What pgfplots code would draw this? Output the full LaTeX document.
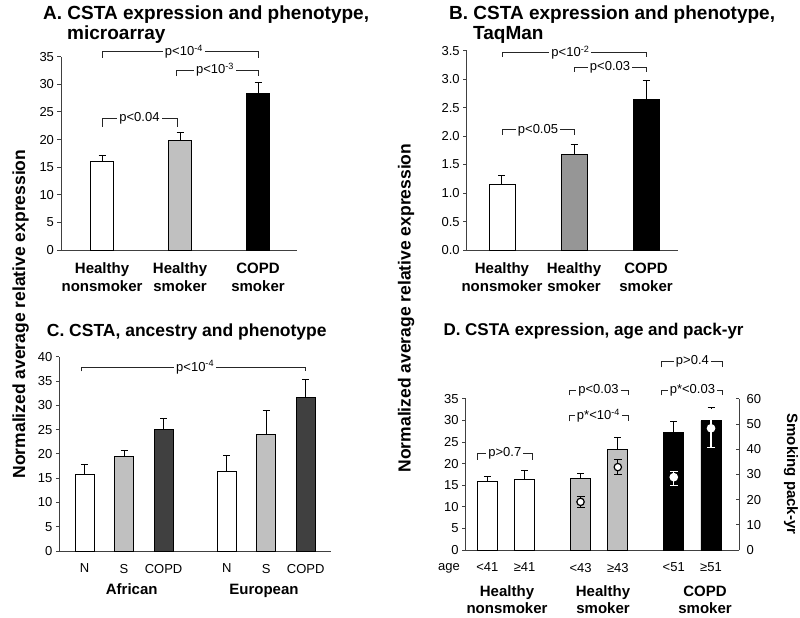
\documentclass[border=0pt]{standalone}
\usepackage{fontspec}
\setmainfont{Liberation Sans}
\usepackage{pgfplots}
\pgfplotsset{compat=1.18}
\definecolor{lgray}{HTML}{C0C0C0}
\definecolor{mgray}{HTML}{969696}
\definecolor{dgray}{HTML}{404040}
\newcommand{\tfont}{\bfseries\fontsize{17.5}{20}\selectfont}
\newcommand{\tfontA}{\bfseries\fontsize{19}{21}\selectfont}
\newcommand{\tfontD}{\bfseries\fontsize{17}{20}\selectfont}
\newcommand{\lfont}{\bfseries\fontsize{15}{17.5}\selectfont}
\newcommand{\nfont}{\fontsize{13}{15}\selectfont}
\newcommand{\pfont}{\fontsize{13}{15}\selectfont}
\pgfplotsset{
  panel/.style={
    scale only axis, anchor=south west, clip=false,
    axis x line=bottom, axis y line=left,
    axis line style={-, black!75, line width=0.9pt},
    ymin=0,
    ytick style={black!75, line width=0.9pt}, tick align=outside, major tick length=3.5pt,
    xtick style={draw=none},
    yticklabel style={font=\nfont, /pgf/number format/assume math mode=true},
  },
  mybar/.style={ybar, bar shift=0pt, draw=black, line width=0.9pt,
    error bars/y dir=plus, error bars/y explicit,
    error bars/error bar style={line width=1pt, black, solid},
    error bars/error mark options={rotate=90, mark size=3.5pt, line width=1pt, black}},
}
% x1, x2, mid, y, ytick, label
\newcommand{\brk}[6]{%
  \draw[black!85, line width=0.9pt] (axis cs:#1,#5) -- (axis cs:#1,#4) -- (axis cs:#2,#4) -- (axis cs:#2,#5);
  \node[fill=white, inner sep=2pt, font=\pfont] at (axis cs:#3,#4) {#6};
}
\begin{document}
\begin{tikzpicture}
\path[use as bounding box] (0,0) rectangle (800pt,-618pt);

% ---------- Panel A ----------
\begin{axis}[panel, at={(61pt,-250pt)}, width=236pt, height=193.3pt,
  xmin=-0.526, xmax=2.5, ymax=35, ytick={0,5,...,35},
  xtick={0,1,2}, xticklabels={Healthy\\nonsmoker, Healthy\\smoker, COPD\\smoker},
  xticklabel style={font=\lfont, align=center, yshift=-6pt}]
\addplot[mybar, bar width=0.29, fill=white] coordinates {(0,16.1) +- (0,1.1)};
\addplot[mybar, bar width=0.29, fill=lgray] coordinates {(1,19.9) +- (0,1.4)};
\addplot[mybar, bar width=0.29, fill=black] coordinates {(2,28.4) +- (0,2.0)};
\brk{0}{2}{1.05}{35.9}{34.8}{p<10\textsuperscript{-4}}
\brk{0.95}{2}{1.45}{32.6}{31.5}{p<10\textsuperscript{-3}}
\brk{0}{0.97}{0.48}{23.9}{22.3}{p<0.04}
\end{axis}

% ---------- Panel B ----------
\begin{axis}[panel, at={(466.7pt,-250pt)}, width=211pt, height=199.3pt,
  xmin=-0.49, xmax=2.44, ymax=3.5, ytick={0,0.5,...,3.5},
  yticklabel style={/pgf/number format/.cd, fixed, fixed zerofill, precision=1},
  xtick={0,1,2}, xticklabels={Healthy\\nonsmoker, Healthy\\smoker, COPD\\smoker},
  xticklabel style={font=\lfont, align=center, yshift=-6pt}]
\addplot[mybar, bar width=0.36, fill=white] coordinates {(0,1.155) +- (0,0.155)};
\addplot[mybar, bar width=0.36, fill=mgray] coordinates {(1,1.68) +- (0,0.18)};
\addplot[mybar, bar width=0.36, fill=black] coordinates {(2,2.65) +- (0,0.33)};
\brk{0}{2}{0.95}{3.47}{3.39}{p<10\textsuperscript{-2}}
\brk{1}{2}{1.5}{3.21}{3.13}{p<0.03}
\brk{0}{1}{0.5}{2.11}{2.02}{p<0.05}
\end{axis}

% ---------- Panel C ----------
\begin{axis}[panel, at={(59.3pt,-551pt)}, width=271.7pt, height=194.3pt,
  xmin=-0.64, xmax=6.24, ymax=40, ytick={0,5,...,40},
  xtick={0,1,2,3.6,4.6,5.6}, xticklabels={N,S,COPD,N,S,COPD},
  xticklabel style={font=\nfont, yshift=-6pt}]
\addplot[mybar, bar width=0.48, fill=white] coordinates {(0,15.8) +- (0,2.0) (3.6,16.3) +- (0,3.4)};
\addplot[mybar, bar width=0.48, fill=lgray] coordinates {(1,19.5) +- (0,1.2) (4.6,23.9) +- (0,5.0)};
\addplot[mybar, bar width=0.48, fill=dgray] coordinates {(2,25.1) +- (0,2.1) (5.6,31.6) +- (0,3.8)};
\brk{-0.07}{5.6}{2.8}{37.8}{37.0}{p<10\textsuperscript{-4}}
\end{axis}

% ---------- Panel D ----------
\begin{axis}[panel, at={(465.7pt,-550pt)}, width=273.3pt, height=151.2pt,
  xmin=-0.58, xmax=6.75, ymax=35, ytick={0,5,...,35},
  xtick={0,1,2.5,3.5,5,6}, xticklabels={<41,≥41,<43,≥43,<51,≥51},
  xticklabel style={font=\nfont, yshift=-6pt}]
\addplot[mybar, bar width=0.54, fill=white] coordinates {(0,15.8) +- (0,1.2) (1,16.4) +- (0,1.9)};
\addplot[mybar, bar width=0.54, fill=lgray] coordinates {(2.5,16.5) +- (0,1.3) (3.5,23.2) +- (0,2.8)};
\addplot[mybar, bar width=0.54, fill=black] coordinates {(5,27.1) +- (0,2.6) (6,29.9) +- (0,3.2)};
\brk{-0.27}{1.22}{0.47}{22.3}{20.9}{p>0.7}
\brk{2.19}{3.78}{2.98}{36.9}{35.8}{p<0.03}
\brk{2.19}{3.78}{2.98}{31.1}{29.8}{p*<10\textsuperscript{-4}}
\brk{4.68}{6.31}{5.5}{43.6}{42.3}{p>0.4}
\brk{4.68}{6.31}{5.5}{36.9}{35.8}{p*<0.03}
\end{axis}
\begin{axis}[scale only axis, anchor=south west, clip=false, at={(465.7pt,-550pt)}, width=273.3pt, height=151.2pt,
  xmin=-0.58, xmax=6.75, ymin=0, ymax=60, axis x line=none, axis y line*=right,
  axis line style={-, black!75, line width=0.9pt},
  ytick={0,10,...,60}, tick align=inside, major tick length=3.5pt,
  ytick style={black!75, line width=0.9pt},
  yticklabel style={font=\nfont, /pgf/number format/assume math mode=true, xshift=4pt}]
\addplot[only marks, mark=*, mark size=3.7pt, mark options={fill=white, draw=black, line width=1.2pt},
  error bars/y dir=both, error bars/y explicit, error bars/error bar style={black, line width=1.2pt},
  error bars/error mark options={rotate=90, mark size=4pt, black, line width=1.2pt}]
  coordinates {(2.5,19.1) +- (0,2.2) (3.5,32.9) +- (0,2.95)};
\addplot[only marks, mark=*, mark size=3.7pt, mark options={fill=white, draw=white, line width=1.2pt},
  error bars/y dir=both, error bars/y explicit, error bars/error bar style={white, line width=1.2pt},
  error bars/error mark options={rotate=90, mark size=4pt, white, line width=1.2pt}]
  coordinates {(5,28.9) += (0,2.3) -= (0,3.2) (6,48.3) +- (0,7.6)};
\end{axis}

% ---------- Texts ----------
\node[anchor=base west, font=\tfontA, inner sep=0] at (43pt,-19.5pt) {A. CSTA expression and phenotype,};
\node[anchor=base west, font=\tfontA, inner sep=0] at (67pt,-40pt) {microarray};
\node[anchor=base west, font=\tfontA, inner sep=0] at (449pt,-19.5pt) {B. CSTA expression and phenotype,};
\node[anchor=base west, font=\tfontA, inner sep=0] at (473pt,-40pt) {TaqMan};
\node[anchor=base west, font=\tfont, inner sep=0] at (46.7pt,-336.8pt) {C. CSTA, ancestry and phenotype};
\node[anchor=base west, font=\tfontD, inner sep=0] at (443.3pt,-335.8pt) {D. CSTA expression, age and pack-yr};

\node[rotate=90, anchor=base, font=\tfont, inner sep=0] at (25pt,-314pt) {Normalized average relative expression};
\node[rotate=90, anchor=base, font=\tfont, inner sep=0] at (410.5pt,-308pt) {Normalized average relative expression};
\node[rotate=-90, anchor=base, font=\lfont, inner sep=0] at (787pt,-474pt) {Smoking pack-yr};

\node[anchor=base, font=\lfont, inner sep=0] at (131.7pt,-594pt) {African};
\node[anchor=base, font=\lfont, inner sep=0] at (264pt,-594pt) {European};

\node[anchor=base, font=\nfont, inner sep=0] at (449pt,-570pt) {age};
\node[anchor=base, font=\lfont, inner sep=0] at (507pt,-596pt) {Healthy};
\node[anchor=base, font=\lfont, inner sep=0] at (507pt,-613pt) {nonsmoker};
\node[anchor=base, font=\lfont, inner sep=0] at (603pt,-596pt) {Healthy};
\node[anchor=base, font=\lfont, inner sep=0] at (603pt,-613pt) {smoker};
\node[anchor=base, font=\lfont, inner sep=0] at (705pt,-596pt) {COPD};
\node[anchor=base, font=\lfont, inner sep=0] at (705pt,-613pt) {smoker};
\end{tikzpicture}
\end{document}
